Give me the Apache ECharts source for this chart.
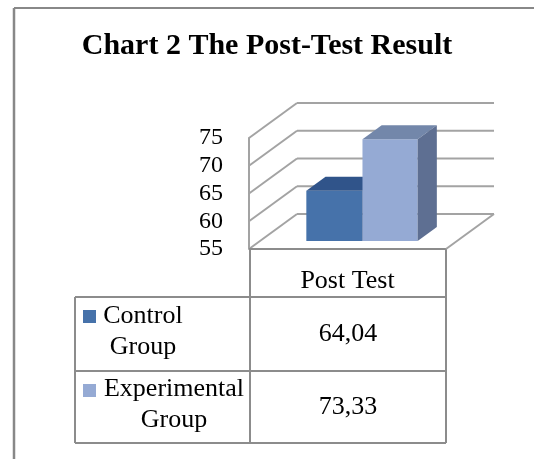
<!DOCTYPE html>
<html>
<head>
<meta charset="utf-8">
<script src="https://cdn.jsdelivr.net/npm/echarts@6/dist/echarts.min.js"></script>
<style>
  html, body { margin: 0; padding: 0; background: #fff; }
  #main { width: 534px; height: 459px; }
</style>
</head>
<body>
<div id="main"></div>
<script>
// data
var categories = ['Post Test'];
var groupNames = ['Control Group', 'Experimental Group'];
var groupValues = [64.04, 73.33];
var yTicks = [55, 60, 65, 70, 75];

// colours of the faces: front, top, side
var faceColors = [
    ['#4672aa', '#30548a', '#2c4a78'],
    ['#95aad4', '#7387aa', '#5e6f92']
];

// 3d look: depth offset of the floor and where the bars sit in it
var DX = 48, DY = -35;
var barDepth = [0.23, 0.63];
var barSpan = [[0.235, 0.52], [0.52, 0.80]];
var wallColor = '#a3a3a3';
var tableColor = '#8c8c8c';
var serif = 'Liberation Serif';

var myChart = echarts.init(document.getElementById('main'));

function wallItem(params, api) {
    var p = api.coord([api.value(0), api.value(1)]);
    var band = api.size([1, 0])[0];
    var x0 = p[0] - band / 2, x1 = p[0] + band / 2, y = p[1];
    var st = { stroke: wallColor, lineWidth: 2 };
    var kids = [
        { type: 'line', shape: { x1: x0, y1: y, x2: x0 + DX, y2: y + DY }, style: st },
        { type: 'line', shape: { x1: x0 + DX, y1: y + DY, x2: x1 + DX, y2: y + DY }, style: st }
    ];
    if (api.value(1) === yTicks[0]) {
        // floor: front edge and right edge
        kids.push({ type: 'line', shape: { x1: x0, y1: y, x2: x1, y2: y }, style: { stroke: tableColor, lineWidth: 2 } });
        kids.push({ type: 'line', shape: { x1: x1, y1: y, x2: x1 + DX, y2: y + DY }, style: st });
    }
    return { type: 'group', children: kids };
}

function barItem(idx) {
    return function (params, api) {
        var base = api.coord([api.value(0), yTicks[0]]);
        var top = api.coord([api.value(0), api.value(1)]);
        var band = api.size([1, 0])[0];
        var x0 = base[0] - band / 2;
        var l = x0 + band * barSpan[idx][0], r = x0 + band * barSpan[idx][1];
        var ox = DX * barDepth[0], oy = DY * barDepth[0];
        var dx = DX * (barDepth[1] - barDepth[0]), dy = DY * (barDepth[1] - barDepth[0]);
        var ty = top[1] + oy, by = base[1] + oy;
        var c = faceColors[idx];
        return {
            type: 'group',
            children: [
                { type: 'rect', shape: { x: l + ox, y: ty, width: r - l, height: by - ty }, style: { fill: c[0] } },
                { type: 'polygon', shape: { points: [[l + ox, ty], [r + ox, ty], [r + ox + dx, ty + dy], [l + ox + dx, ty + dy]] }, style: { fill: c[1] } },
                { type: 'polygon', shape: { points: [[r + ox, ty], [r + ox + dx, ty + dy], [r + ox + dx, by + dy], [r + ox, by]] }, style: { fill: c[2] } }
            ]
        };
    };
}

function fmt(v) {
    return v.toFixed(2).replace('.', ',');
}

// frame and data table
var graphics = [
    { type: 'line', shape: { x1: 14, y1: 8, x2: 534, y2: 8 }, style: { stroke: '#888', lineWidth: 2 } },
    { type: 'line', shape: { x1: 14, y1: 8, x2: 14, y2: 459 }, style: { stroke: '#888', lineWidth: 2.5 } },
    { type: 'line', shape: { x1: 250, y1: 249, x2: 250, y2: 443 }, style: { stroke: tableColor, lineWidth: 2 } },
    { type: 'line', shape: { x1: 446, y1: 249, x2: 446, y2: 443 }, style: { stroke: tableColor, lineWidth: 2 } },
    { type: 'line', shape: { x1: 75, y1: 297, x2: 75, y2: 443 }, style: { stroke: tableColor, lineWidth: 2 } },
    { type: 'line', shape: { x1: 75, y1: 297, x2: 446, y2: 297 }, style: { stroke: tableColor, lineWidth: 2 } },
    { type: 'line', shape: { x1: 75, y1: 371, x2: 446, y2: 371 }, style: { stroke: tableColor, lineWidth: 2 } },
    { type: 'line', shape: { x1: 75, y1: 443, x2: 446, y2: 443 }, style: { stroke: tableColor, lineWidth: 2 } }
];
var rowTop = [297, 371];
var rowMid = [334, 407];
var nameX = [143, 174];
groupNames.forEach(function (name, i) {
    graphics.push({ type: 'rect', shape: { x: 83, y: rowTop[i] + 13, width: 13, height: 13 }, style: { fill: faceColors[i][0] } });
    graphics.push({
        type: 'text',
        style: {
            text: name.split(' ').join('\n'), x: nameX[i], y: rowMid[i] - 2,
            font: '26px "' + serif + '"', fill: '#000', textAlign: 'center', textVerticalAlign: 'middle', lineHeight: 31
        }
    });
    graphics.push({
        type: 'text',
        style: {
            text: fmt(groupValues[i]), x: 348, y: rowMid[i],
            font: '26px "' + serif + '"', fill: '#000', textAlign: 'center', textVerticalAlign: 'middle'
        }
    });
});

var series = [{
    type: 'custom',
    name: 'walls',
    renderItem: wallItem,
    clip: false,
    silent: true,
    encode: { x: 0, y: 1 },
    data: yTicks.map(function (v) { return [categories[0], v]; }),
    z: 1
}];
groupNames.forEach(function (name, i) {
    series.push({
        type: 'custom',
        name: name,
        renderItem: barItem(i),
        clip: false,
        encode: { x: 0, y: 1 },
        data: [[categories[0], groupValues[i]]],
        z: 2 + i
    });
});

myChart.setOption({
    animation: false,
    title: {
        text: 'Chart 2 The Post-Test Result',
        left: 'center',
        top: 26,
        textStyle: { fontFamily: serif, fontSize: 30, fontWeight: 'bold', color: '#000' }
    },
    grid: { left: 249, top: 138, width: 197, height: 111, outerBoundsMode: 'none' },
    xAxis: {
        type: 'category',
        data: categories,
        axisLine: { show: false },
        axisTick: { show: false },
        axisLabel: { fontFamily: serif, fontSize: 26, color: '#000', margin: 19 }
    },
    yAxis: {
        type: 'value',
        min: 55,
        max: 75,
        interval: 5,
        axisLine: { show: true, lineStyle: { color: wallColor, width: 2 } },
        axisTick: { show: false },
        splitLine: { show: false },
        axisLabel: { fontFamily: serif, fontSize: 24, color: '#000', margin: 26, padding: [4, 0, 0, 0] }
    },
    graphic: graphics,
    series: series
});
</script>
</body>
</html>
